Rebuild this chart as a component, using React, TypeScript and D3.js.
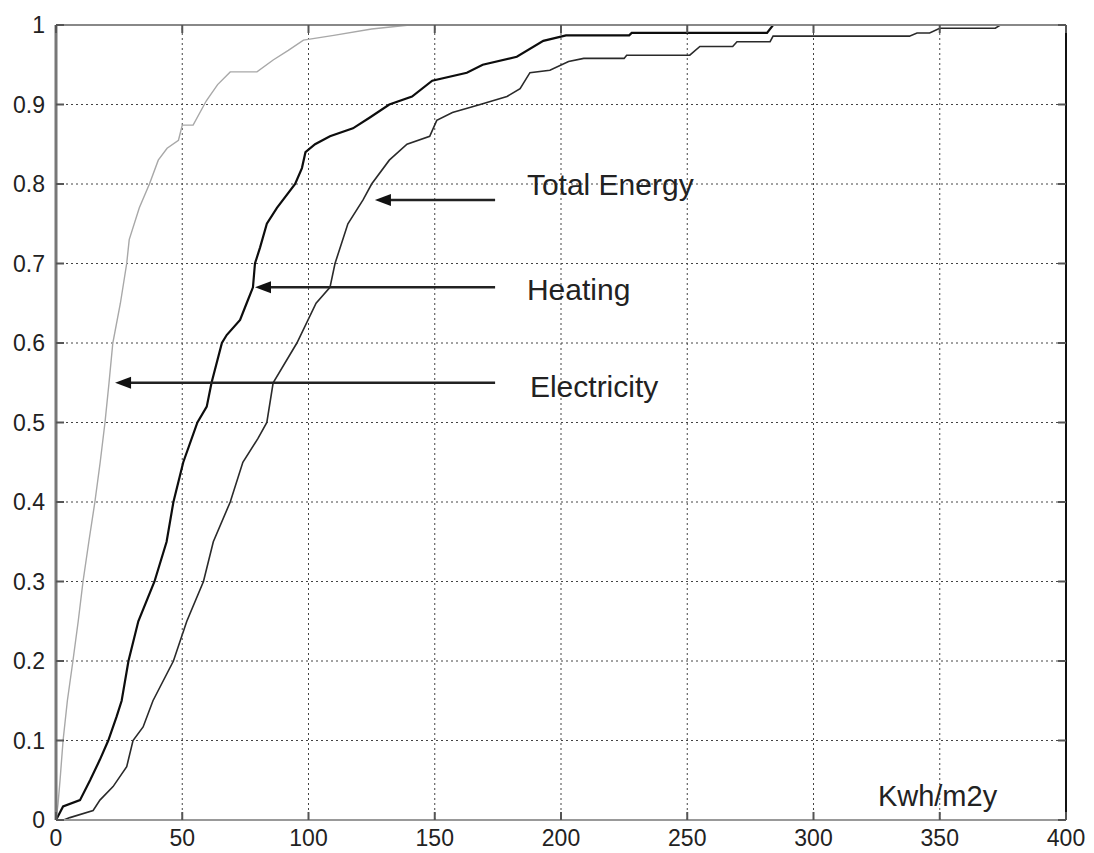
import * as d3 from 'd3';

// cumulative share of buildings vs. specific consumption (kWh/m2y)
const xTicks = [0, 50, 100, 150, 200, 250, 300, 350, 400];
const yTicks = [0, 0.1, 0.2, 0.3, 0.4, 0.5, 0.6, 0.7, 0.8, 0.9, 1];

const elecX = [0, 0.8, 1.6, 2.8, 4.5, 6.7, 8.8, 10.7, 13, 15.4, 17.5, 19.4, 21, 22.5, 25.5, 28, 29, 33, 37, 40.5, 44, 48.5, 50, 54.3, 59.6, 64, 69, 79.6, 86, 92, 98, 110, 125, 140, 350];
const elecY = [0, 0.02, 0.05, 0.1, 0.15, 0.2, 0.25, 0.3, 0.35, 0.4, 0.45, 0.5, 0.55, 0.6, 0.65, 0.7, 0.73, 0.77, 0.8, 0.83, 0.845, 0.855, 0.874, 0.874, 0.905, 0.925, 0.941, 0.941, 0.956, 0.968, 0.981, 0.987, 0.995, 1, 1];

const heatX = [0, 1, 2.8, 9.5, 13.5, 17.4, 20.7, 24, 26, 28.7, 32.6, 39, 43.8, 46.5, 50.4, 56, 59.7, 61.6, 65.7, 67.6, 72.9, 75.5, 78, 78.8, 80.8, 83.5, 87.5, 94.7, 97.4, 98.8, 102.6, 108.5, 117.6, 124, 132, 141, 149, 162.7, 169, 182.5, 193, 202, 227, 228, 281.6, 284, 350];
const heatY = [0, 0.006, 0.017, 0.025, 0.05, 0.076, 0.1, 0.13, 0.15, 0.2, 0.25, 0.3, 0.35, 0.4, 0.45, 0.5, 0.52, 0.55, 0.6, 0.61, 0.629, 0.65, 0.67, 0.7, 0.72, 0.75, 0.77, 0.8, 0.82, 0.84, 0.85, 0.86, 0.87, 0.883, 0.9, 0.91, 0.93, 0.94, 0.95, 0.96, 0.98, 0.987, 0.987, 0.99, 0.99, 1, 1];

const totalX = [3, 5.5, 14.7, 17.4, 22.6, 28, 30.5, 34.5, 38.4, 46.5, 51.8, 58.4, 62.3, 69, 74, 80, 83.5, 86, 95.4, 103, 108.5, 110.5, 115.6, 121.6, 125, 132, 139, 148, 150.8, 157, 168, 178.6, 183.8, 187.7, 195.6, 203, 209, 225, 226, 251, 255, 268, 269.7, 282.8, 284, 338, 341, 346, 350, 372, 374, 380];
const totalY = [0, 0.003, 0.012, 0.025, 0.042, 0.067, 0.1, 0.117, 0.15, 0.2, 0.25, 0.3, 0.35, 0.4, 0.45, 0.48, 0.5, 0.55, 0.6, 0.65, 0.67, 0.7, 0.75, 0.78, 0.8, 0.83, 0.85, 0.86, 0.88, 0.89, 0.9, 0.91, 0.92, 0.94, 0.943, 0.954, 0.958, 0.958, 0.962, 0.962, 0.973, 0.973, 0.979, 0.979, 0.986, 0.986, 0.99, 0.99, 0.996, 0.996, 1, 1];

// annotation labels: text, y level of its arrow, x where the arrow points
const labelNames = ['Total Energy', 'Heating', 'Electricity'];
const arrowY = [0.78, 0.67, 0.55];
const arrowTipX = [126.3, 78.8, 23.4];
const labelY = [0.8, 0.667, 0.545];

export default function App() {
    const width = 1094;
    const height = 853;
    const x = d3.scaleLinear().domain([0, 400]).range([56, 1066]);
    const y = d3.scaleLinear().domain([0, 1]).range([820, 25]);

    const line = d3.line<[number, number]>()
        .x(d => x(d[0]))
        .y(d => y(d[1]));

    const zip = (xs: number[], ys: number[]) => xs.map((v, i) => [v, ys[i]] as [number, number]);

    const font = 'Liberation Sans, Arial, Helvetica, sans-serif';

    return (
        <svg width={width} height={height} style={{ position: 'absolute', left: 0, top: 0, background: '#fff' }}>
            {/* grid */}
            {xTicks.slice(1, -1).map(t => (
                <line key={'gx' + t} x1={x(t)} x2={x(t)} y1={y(0)} y2={y(1)} stroke="#444" strokeWidth={1} strokeDasharray="2,3" />
            ))}
            {yTicks.slice(1, -1).map(t => (
                <line key={'gy' + t} x1={x(0)} x2={x(400)} y1={y(t)} y2={y(t)} stroke="#444" strokeWidth={1} strokeDasharray="2,3" />
            ))}

            {/* curves */}
            <path d={line(zip(elecX, elecY))!} fill="none" stroke="#a8a8a8" strokeWidth={1.4} />
            <path d={line(zip(totalX, totalY))!} fill="none" stroke="#2a2a2a" strokeWidth={1.6} />
            <path d={line(zip(heatX, heatY))!} fill="none" stroke="#0d0d0d" strokeWidth={2.2} />

            {/* frame */}
            <line x1={x(0)} x2={x(400)} y1={y(1)} y2={y(1)} stroke="#888" strokeWidth={2} />
            <line x1={x(0)} x2={x(400)} y1={y(0)} y2={y(0)} stroke="#999" strokeWidth={2} />
            <line x1={x(0)} x2={x(0)} y1={y(0)} y2={y(1)} stroke="#777" strokeWidth={3} />
            <line x1={x(400)} x2={x(400)} y1={y(0)} y2={y(1)} stroke="#111" strokeWidth={2} />

            {/* ticks */}
            {yTicks.map(t => (
                <g key={'ty' + t}>
                    <line x1={x(0)} x2={x(0) + 8} y1={y(t)} y2={y(t)} stroke="#555" strokeWidth={2} />
                    <line x1={x(400)} x2={x(400) - 8} y1={y(t)} y2={y(t)} stroke="#555" strokeWidth={2} />
                    <text x={45} y={y(t)} dy="0.35em" textAnchor="end" fontFamily={font} fontSize={23} fill="#222">{t}</text>
                </g>
            ))}
            {xTicks.map(t => (
                <g key={'tx' + t}>
                    <line x1={x(t)} x2={x(t)} y1={y(0)} y2={y(0) - 8} stroke="#555" strokeWidth={2} />
                    <line x1={x(t)} x2={x(t)} y1={y(1)} y2={y(1) + 8} stroke="#555" strokeWidth={2} />
                    <text x={x(t)} y={846} textAnchor="middle" fontFamily={font} fontSize={23} fill="#222">{t}</text>
                </g>
            ))}

            {/* annotations */}
            {labelNames.map((name, i) => {
                const tx = x(arrowTipX[i]);
                const ay = y(arrowY[i]);
                return (
                    <g key={name}>
                        <line x1={x(173.9)} x2={tx + 12} y1={ay} y2={ay} stroke="#222" strokeWidth={2.5} />
                        <path d={`M${tx},${ay} L${tx + 16},${ay - 6} L${tx + 16},${ay + 6} Z`} fill="#111" />
                        <text x={x(i === 2 ? 187.7 : 186.5)} y={y(labelY[i])} dy="0.35em" fontFamily={font} fontSize={30} fill="#222">{name}</text>
                    </g>
                );
            })}
            <text x={x(325.5)} y={y(0.018)} fontFamily={font} fontSize={29} fill="#222">Kwh/m2y</text>
        </svg>
    );
}
